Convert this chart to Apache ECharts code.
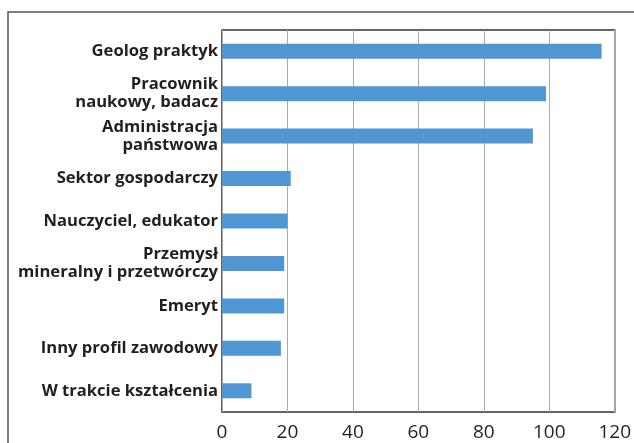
<!DOCTYPE html>
<html>
<head>
<meta charset="utf-8">
<script src="https://cdn.jsdelivr.net/npm/echarts@6/dist/echarts.min.js"></script>
<style>
  html, body { margin: 0; padding: 0; background: #fff; }
  #chart { width: 634px; height: 443px; }
</style>
</head>
<body>
<div id="chart"></div>
<script>
// categories, top to bottom
const categories = [
  'Geolog praktyk',
  'Pracownik\nnaukowy, badacz',
  'Administracja\npaństwowa',
  'Sektor gospodarczy',
  'Nauczyciel, edukator',
  'Przemysł\nmineralny i przetwórczy',
  'Emeryt',
  'Inny profil zawodowy',
  'W trakcie kształcenia',
];
const values = [116, 99, 95, 21, 20, 19, 19, 18, 9];
const xTicks = { min: 0, max: 120, interval: 20 };

const chart = echarts.init(document.getElementById('chart'));

chart.setOption({
  animation: false,
  textStyle: { fontFamily: '"Open Sans", sans-serif' },
  grid: {
    left: 222,
    right: 16,
    top: 30,
    bottom: 31,
    show: true,
    borderColor: '#333',
    borderWidth: 1.5,
    backgroundColor: 'transparent',
  },
  xAxis: {
    type: 'value',
    min: xTicks.min,
    max: xTicks.max,
    interval: xTicks.interval,
    axisLine: { show: false },
    axisTick: { show: false },
    axisLabel: { color: '#231f20', fontSize: 19, margin: 11 },
    splitLine: { show: true, lineStyle: { color: '#aaa', width: 1 } },
  },
  yAxis: {
    type: 'category',
    data: categories,
    inverse: true,
    axisLine: { show: false },
    axisTick: { show: false },
    axisLabel: {
      color: '#231f20',
      fontSize: 16.6,
      fontWeight: 'bold',
      lineHeight: 18,
      margin: 4,
      align: 'right',
    },
  },
  series: [
    {
      type: 'bar',
      data: values,
      barWidth: 15,
      itemStyle: { color: '#4f96d2' },
    },
  ],
  graphic: [
    {
      type: 'rect',
      shape: { x: 8, y: 12, width: 700, height: 500 },
      style: { fill: 'none', stroke: '#555', lineWidth: 1.5 },
      silent: true,
    },
  ],
});
</script>
</body>
</html>
